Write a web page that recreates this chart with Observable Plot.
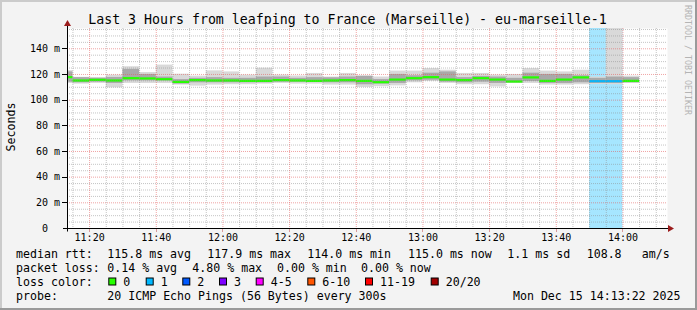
<!DOCTYPE html>
<html><head><meta charset="utf-8">
<script src="https://cdn.jsdelivr.net/npm/d3@7"></script>
<script src="https://cdn.jsdelivr.net/npm/@observablehq/plot@0.6"></script>
<style>
html,body{margin:0;padding:0;background:#f3f3f3;overflow:hidden;}
#chart svg{display:block;}
</style></head><body><div id="chart"></div>
<script>
// ---------- data ----------
const title = "Last 3 Hours from leafping to France (Marseille) - eu-marseille-1";
const yLabel = "Seconds";
const watermark = "RRDTOOL / TOBI OETIKER";
const intervalStarts = ["11:10","11:15","11:20","11:25","11:30","11:35","11:40","11:45","11:50","11:55",
  "12:00","12:05","12:10","12:15","12:20","12:25","12:30","12:35","12:40","12:45",
  "12:50","12:55","13:00","13:05","13:10","13:15","13:20","13:25","13:30","13:35",
  "13:40","13:45","13:50","13:55","14:00"];
const median = [117.9,115.3,115.8,115.3,117.1,116.9,116.3,114.2,115.6,115.3,
  115.3,115.0,115.0,115.6,115.3,115.0,115.3,115.6,115.0,114.0,
  116.0,117.1,117.9,116.0,115.6,117.1,116.0,114.5,117.7,115.0,
  116.0,117.7,114.8,114.8,115.0];
const smokeLo = [113,112.5,113,109.6,113,113,113,111.7,110.9,111.7,
  112,112,112.5,113,112.5,112.5,111.7,111.7,109.9,110.5,
  111.1,113.5,114.5,113,112,112,110.3,113,113,111.7,
  111.7,112,112.2,112,113];
const smokeHi = [123,117.8,117.6,119.5,126,121.5,127.3,120.2,118.7,122.8,
  122,119.5,124.9,119.5,118.8,120.8,118,120.8,119,118,
  122.6,122.6,124.6,123.3,120.8,120.8,119.5,120,124.6,122.6,
  122,123.3,118,160,118.7];
const coreLo = [114,113.5,114,113,115,115,115,112.5,113.5,113.5,
  113.5,113.5,113.5,114,114,114,113.5,113.5,112,112.5,
  113,115,115.5,114,113.5,114,113,113.5,114.5,113,
  113,113.5,113,113,113.5];
const coreHi = [122,117.5,117,117.6,124,120,118,116,117,117.5,
  117,117,118,118,117,117.5,117.4,118,118.5,116,
  120,119,121,122,117.5,118.5,118,117,121,120,
  120,119,117,118,117.5];
const lossCount = [0,0,0,0,0,0,0,0,0,0, 0,0,0,0,0,0,0,0,0,0, 0,0,0,0,0,0,0,0,0,0, 0,0,1,1,0];

const yTicks = [0,20,40,60,80,100,120,140];
const yTickLabels = ["0","20 m","40 m","60 m","80 m","100 m","120 m","140 m"];
const xTickLabels = ["11:20","11:40","12:00","12:20","12:40","13:00","13:20","13:40","14:00"];

const statRows = [
  {label: "median rtt:", items: ["115.8 ms avg","117.9 ms max","114.0 ms min","115.0 ms now","1.1 ms sd","108.8","am/s"]},
  {label: "packet loss:", items: ["0.14 % avg","4.80 % max","0.00 % min","0.00 % now"]}
];
const medianItemX = [107.3,207.3,307.3,408,507.3,586.7,641.7];
const lossItemX = [107.3,192.3,277,361];
const lossLegend = ["0","1","2","3","4-5","6-10","11-19","20/20"];
const lossColors = ["#26ff00","#00b8ff","#0059ff","#7e00ff","#ff00ff","#ff5500","#ff0000","#a10000"];
const lossBoxX = [108.3,145.7,182.3,219,255.7,307.3,365,430.7];
const probeLabel = "probe:";
const probeText = "20 ICMP Echo Pings (56 Bytes) every 300s";
const dateText = "Mon Dec 15 14:13:22 2025";

// ---------- build ----------
const parse = hm => { const [h, m] = hm.split(":").map(Number); return new Date(Date.UTC(2025, 11, 15, h, m)); };
const xDomain = [new Date(Date.UTC(2025,11,15,11,13,22)), new Date(Date.UTC(2025,11,15,14,13,22))];
const yMax = 155.8;
const rows = intervalStarts.map((s, i) => ({
  t0: parse(s), t1: new Date(parse(s).getTime() + 300000),
  median: median[i], lo: smokeLo[i], hi: smokeHi[i], clo: coreLo[i], chi: coreHi[i], loss: lossCount[i]
}));
const lossColorOf = n => n === 0 ? lossColors[0] : n === 1 ? lossColors[1] : n === 2 ? lossColors[2] : n === 3 ? lossColors[3] : n <= 5 ? lossColors[4] : n <= 10 ? lossColors[5] : n <= 19 ? lossColors[6] : lossColors[7];

const minorX = d3.utcMinute.every(5).range(xDomain[0], xDomain[1]).filter(d => d.getUTCMinutes() % 20 !== 0);
const majorX = xTickLabels.map(parse);
const minorY = d3.range(5, yMax, 5).filter(v => v % 20 !== 0);
const majorY = yTicks.filter(v => v > 0);

const mono = "DejaVu Sans Mono, monospace";

const chart = Plot.plot({
  width: 697, height: 310,
  marginLeft: 67, marginRight: 30, marginTop: 28, marginBottom: 82,
  x: {type: "utc", domain: xDomain, axis: null},
  y: {domain: [0, yMax], axis: null},
  style: {background: "transparent", fontFamily: mono, overflow: "visible"},
  marks: [
    Plot.frame({fill: "#ffffff", stroke: null}),
    Plot.rect(rows.filter(d => d.loss > 0), {x1: "t0", x2: "t1", fill: d => lossColorOf(d.loss), fillOpacity: 0.35}),
    Plot.rect(rows, {x1: "t0", x2: "t1", y1: "lo", y2: "hi", fill: "#d9d9d9", clip: true}),
    Plot.rect(rows, {x1: "t0", x2: "t1", y1: "clo", y2: "chi", fill: "#a9a9a9", clip: true}),
    Plot.ruleY(rows, {x1: "t0", x2: "t1", y: "median", stroke: d => lossColorOf(d.loss), strokeWidth: 2.2, clip: true}),
    Plot.ruleY(minorY, {stroke: "#8c8c8c", strokeOpacity: 0.5, strokeDasharray: "1,1"}),
    Plot.ruleX(minorX, {stroke: "#8c8c8c", strokeOpacity: 0.5, strokeDasharray: "1,1"}),
    Plot.ruleY(majorY, {stroke: "#e35a5a", strokeOpacity: 0.55, strokeDasharray: "1,1"}),
    Plot.ruleX(majorX, {stroke: "#e35a5a", strokeOpacity: 0.55, strokeDasharray: "1,1"}),
    Plot.text(yTicks, {y: d => d, frameAnchor: "left", dx: -7.5, textAnchor: "end", lineAnchor: "middle",
      text: (d, i) => yTickLabels[i].includes(" ") ? yTickLabels[i] : yTickLabels[i] + "\u00a0\u00a0",
      fontSize: 10, fill: "#000"}),
    Plot.text(majorX, {x: d => d, frameAnchor: "bottom", dy: 9, textAnchor: "middle", lineAnchor: "middle",
      text: (d, i) => xTickLabels[i], fontSize: 10, fill: "#000"})
  ]
});

const svg = d3.select(chart);
const xs = chart.scale("x"), ys = chart.scale("y");
const x0 = Math.round(xs.apply(xDomain[0])) + 0.5;
const xEnd = xs.apply(xDomain[1]);
const y0 = Math.round(ys.apply(0)) + 0.5;

// frame border (3D look)
svg.append("path").attr("d", "M1,309 V1 H696").attr("fill", "none").attr("stroke", "#cbcbcb").attr("stroke-width", 2);
svg.append("path").attr("d", "M0,309 H696 V0").attr("fill", "none").attr("stroke", "#9a9a9a").attr("stroke-width", 2);

// axis ticks
const g = svg.append("g");
majorY.forEach(v => { const yy = Math.round(ys.apply(v)) + 0.5; g.append("line").attr("x1", 62).attr("x2", x0).attr("y1", yy).attr("y2", yy).attr("stroke", "#000"); });
majorX.forEach(t => { const xx = Math.round(xs.apply(t)) + 0.5; g.append("line").attr("x1", xx).attr("x2", xx).attr("y1", y0).attr("y2", y0 + 3).attr("stroke", "#c04040").attr("stroke-dasharray", "1,1"); });
// axis lines
g.append("line").attr("x1", x0).attr("x2", x0).attr("y1", y0 + 3).attr("y2", 23).attr("stroke", "#000");
g.append("line").attr("x1", 63).attr("x2", xEnd + 1).attr("y1", y0).attr("y2", y0).attr("stroke", "#000");
// arrows
g.append("path").attr("d", `M${x0 - 3.5},26 L${x0},20 L${x0 + 3.5},26 Z`).attr("fill", "#9b1c1c");
g.append("path").attr("d", `M${xEnd + 1},${y0 - 3.5} L${xEnd + 7},${y0} L${xEnd + 1},${y0 + 3.5} Z`).attr("fill", "#9b1c1c");

// texts
const T = (x, y, s, opts = {}) => {
  const t = svg.append("text").attr("x", x).attr("y", y).text(s)
    .attr("font-family", mono).attr("font-size", opts.size || 11.6).attr("fill", opts.fill || "#000")
    .attr("text-anchor", opts.anchor || "start");
  if (opts.transform) t.attr("transform", opts.transform);
  if (opts.baseline) t.attr("dominant-baseline", opts.baseline);
  return t;
};
T(347.5, 24, title, {size: 13.25, anchor: "middle"});
T(0, 0, yLabel, {anchor: "middle", baseline: "central", transform: "translate(11,127) rotate(-90)"});
T(0, 0, watermark, {size: 8.3, fill: "#b4b4b4", anchor: "middle", baseline: "central", transform: "translate(688,60) rotate(90)"});

T(16, 258, statRows[0].label);
statRows[0].items.forEach((s, i) => T(medianItemX[i], 258, s));
T(16, 272, statRows[1].label);
statRows[1].items.forEach((s, i) => T(lossItemX[i], 272, s));
T(16, 286, "loss color:");
lossLegend.forEach((s, i) => {
  svg.append("rect").attr("x", lossBoxX[i] + 0.5).attr("y", 278).attr("width", 7).attr("height", 7)
    .attr("fill", lossColors[i]).attr("stroke", "#000").attr("stroke-width", 1);
  T(lossBoxX[i] + 15, 286, s);
});
T(16, 300, probeLabel);
T(107.3, 300, probeText);
T(680.5, 300, dateText, {anchor: "end"});

document.getElementById("chart").appendChild(chart);
</script>
</body></html>
